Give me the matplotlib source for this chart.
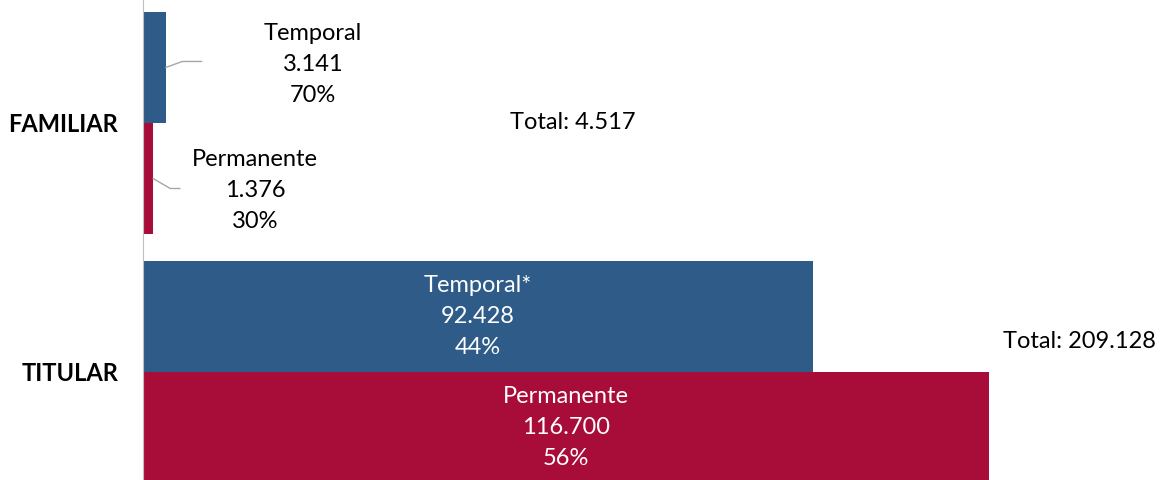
"""
Tipo de contrato por condición (FAMILIAR / TITULAR), barras horizontales.
"""
import matplotlib
matplotlib.use('Agg')
import matplotlib.pyplot as plt

plt.rcParams['font.family'] = ['Lato', 'DejaVu Sans']

GROUPS = ['FAMILIAR', 'TITULAR']
TEMPORAL = [3141, 92428]
PERMANENTE = [1376, 116700]
TEMPORAL_LABELS = ['Temporal', 'Temporal*']
PERMANENTE_LABELS = ['Permanente', 'Permanente']

BLUE = '#2E5B88'
RED = '#A80C38'
LEADER = '#A6A6A6'


def fmt(n):
    return f'{n:,}'.replace(',', '.')


def main():
    fig = plt.figure(figsize=(11.65, 4.8), dpi=100)
    ax = fig.add_axes([143 / 1165, 0, 1 - 143 / 1165, 1])

    h = 0.446
    ys = list(range(len(GROUPS)))
    ax.barh([y - h / 2 for y in ys], TEMPORAL, height=h, color=BLUE)
    ax.barh([y + h / 2 for y in ys], PERMANENTE, height=h, color=RED)

    ax.set_xlim(0, 141000)
    ax.set_ylim(1.434, -0.494)
    for s in ['top', 'right', 'bottom']:
        ax.spines[s].set_visible(False)
    ax.spines['left'].set_color('#BFBFBF')
    ax.spines['left'].set_linewidth(0.8)
    ax.set_xticks([])
    ax.set_yticks(ys)
    ax.set_yticklabels(GROUPS, fontsize=17, fontweight='bold')
    ax.tick_params(axis='y', length=0, pad=18)

    fs = 17
    ls = 1.6
    for i, y in enumerate(ys):
        tot = TEMPORAL[i] + PERMANENTE[i]
        pt = round(100 * TEMPORAL[i] / tot)
        pp = round(100 * PERMANENTE[i] / tot)
        t_txt = f'{TEMPORAL_LABELS[i]}\n{fmt(TEMPORAL[i])}\n{pt}%'
        p_txt = f'{PERMANENTE_LABELS[i]}\n{fmt(PERMANENTE[i])}\n{pp}%'
        if i == 0:
            # small bars: labels outside with leader lines
            ax.annotate(t_txt, xy=(TEMPORAL[i], y - h / 2),
                        xytext=(147, 3), textcoords='offset pixels',
                        ha='center', va='center', fontsize=fs,
                        linespacing=ls, color='#000000')
            ax.annotate('', xy=(TEMPORAL[i], y - h / 2),
                        xytext=(36, 6), textcoords='offset pixels',
                        arrowprops=dict(arrowstyle='-', color=LEADER, lw=1,
                                        connectionstyle='angle,angleA=0,angleB=20,rad=0',
                                        shrinkA=0, shrinkB=0))
            ax.annotate(p_txt, xy=(PERMANENTE[i], y + h / 2),
                        xytext=(102, -12), textcoords='offset pixels',
                        ha='center', va='center', fontsize=fs,
                        linespacing=ls, color='#000000')
            ax.annotate('', xy=(PERMANENTE[i], y + h / 2),
                        xytext=(27, -10), textcoords='offset pixels',
                        arrowprops=dict(arrowstyle='-', color=LEADER, lw=1,
                                        connectionstyle='angle,angleA=0,angleB=-30,rad=0',
                                        shrinkA=0, shrinkB=0))
            ax.text(50600, y, f'Total: {fmt(tot)}', ha='left', va='center',
                    fontsize=fs)
        else:
            ax.text(TEMPORAL[i] / 2, y - h / 2, t_txt, ha='center', va='center',
                    fontsize=fs, linespacing=ls, color='white')
            ax.text(PERMANENTE[i] / 2, y + h / 2, p_txt, ha='center', va='center',
                    fontsize=fs, linespacing=ls, color='white')
            ax.text(118600, y - 0.124, f'Total: {fmt(tot)}', ha='left',
                    va='center', fontsize=fs)

    fig.savefig('out.png', dpi=100, facecolor='white')
    plt.close(fig)


if __name__ == '__main__':
    main()
